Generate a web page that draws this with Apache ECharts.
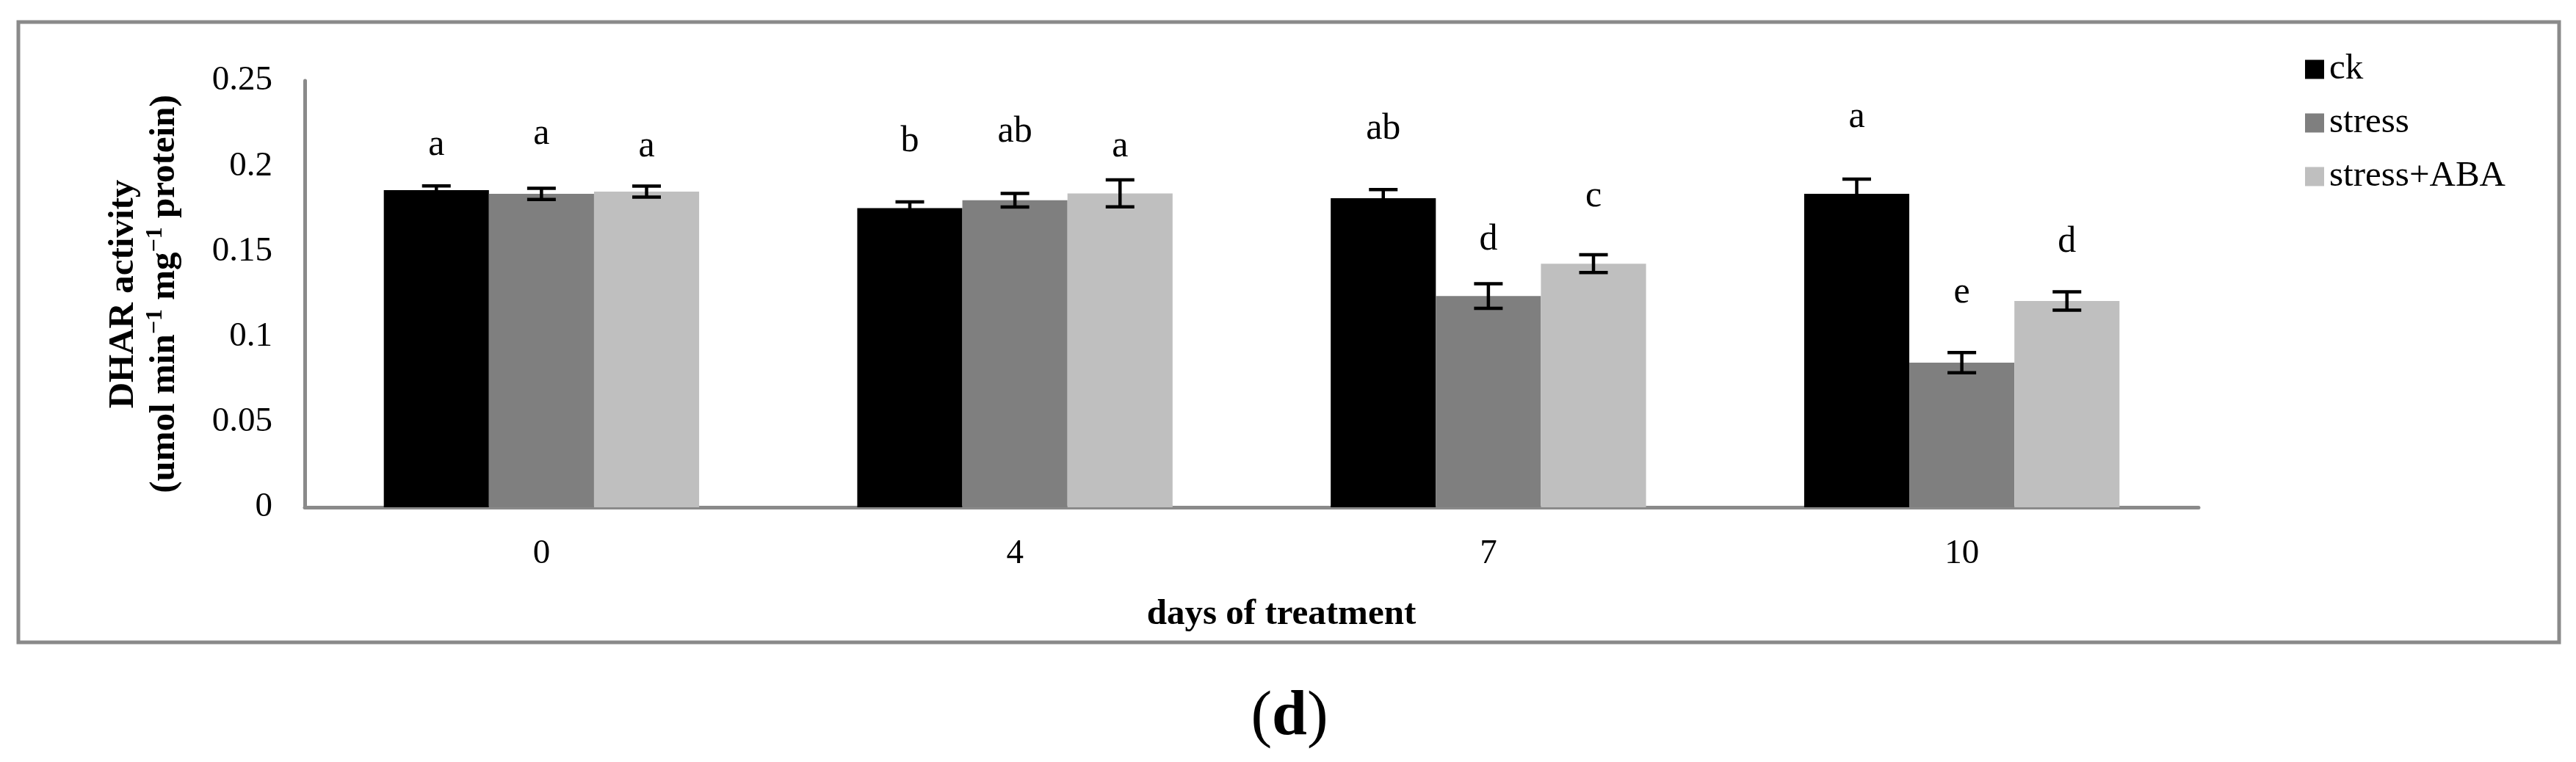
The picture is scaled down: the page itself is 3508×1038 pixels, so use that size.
<!DOCTYPE html>
<html>
<head>
<meta charset="utf-8">
<script src="https://cdn.jsdelivr.net/npm/echarts@6/dist/echarts.min.js"></script>
<style>
html,body{margin:0;padding:0;background:#fff;}
#chart{width:3508px;height:1038px;}
</style>
</head>
<body>
<div id="chart"></div>
<script>
// ---- data ----
const categories = ['0', '4', '7', '10'];
const seriesNames = ['ck', 'stress', 'stress+ABA'];
const ckValues     = [0.1859, 0.1753, 0.1811, 0.1837];
const stressValues = [0.1837, 0.1800, 0.1238, 0.0848];
const abaValues    = [0.1850, 0.1840, 0.1428, 0.1209];
const ckErrors     = [0.0025, 0.0037, 0.0051, 0.0086];
const stressErrors = [0.0033, 0.0040, 0.0072, 0.0059];
const abaErrors    = [0.0032, 0.0079, 0.0052, 0.0054];
const ckLetters     = ['a', 'b', 'ab', 'a'];
const stressLetters = ['a', 'ab', 'd', 'e'];
const abaLetters    = ['a', 'a', 'c', 'd'];
const ckLetterY     = [0.2121, 0.2143, 0.2216, 0.2285];
const stressLetterY = [0.2186, 0.2199, 0.1566, 0.1256];
const abaLetterY    = [0.2113, 0.2113, 0.1820, 0.1553];
const yMin = 0, yMax = 0.25, yStep = 0.05;

// ---- styling ----
const FONT = '"Liberation Serif", "Times New Roman", serif';
const colors = ['#000000', '#7f7f7f', '#bfbfbf'];
const axisGray = '#8a8a8a';
const CAT_GAP = 0.334;

const chart = echarts.init(document.getElementById('chart'), null, {renderer: 'canvas', devicePixelRatio: 1});

function barOffset(api, idx) {
  const catW = api.size([1, 0])[0];
  const bw = catW * (1 - CAT_GAP) / 3;
  return (idx - 1) * bw;
}

function errSeries(idx, values, errors) {
  return {
    type: 'custom',
    name: seriesNames[idx] + ' error',
    z: 5,
    silent: true,
    data: values.map((v, i) => [i, v, errors[i]]),
    renderItem: function (params, api) {
      const cat = api.value(0), v = api.value(1), e = api.value(2);
      const x = api.coord([cat, 0])[0] + barOffset(api, idx);
      const yt = api.coord([cat, v + e])[1];
      const yb = api.coord([cat, v - e])[1];
      const h = 19.5;
      const st = {stroke: '#000', lineWidth: 4.5};
      return {
        type: 'group',
        children: [
          {type: 'line', shape: {x1: x, y1: yt, x2: x, y2: yb}, style: st},
          {type: 'line', shape: {x1: x - h, y1: yt, x2: x + h, y2: yt}, style: st},
          {type: 'line', shape: {x1: x - h, y1: yb, x2: x + h, y2: yb}, style: st}
        ]
      };
    }
  };
}

function letterSeries(idx, letterY, letters) {
  return {
    type: 'custom',
    name: seriesNames[idx] + ' letters',
    z: 6,
    silent: true,
    data: letterY.map((v, i) => [i, v]),
    renderItem: function (params, api) {
      const cat = api.value(0), v = api.value(1);
      const p = api.coord([cat, v]);
      return {
        type: 'text',
        x: p[0] + barOffset(api, idx),
        y: p[1],
        style: {
          text: letters[params.dataIndex],
          fontFamily: FONT,
          fontSize: 50,
          fill: '#000',
          align: 'center',
          verticalAlign: 'middle'
        }
      };
    }
  };
}

const barBase = {
  type: 'bar',
  barGap: '0%',
  barCategoryGap: (CAT_GAP * 100) + '%',
  silent: true
};

const option = {
  backgroundColor: '#ffffff',
  animation: false,
  grid: {left: 415, right: 514, top: 110, bottom: 347, containLabel: false},
  legend: {
    orient: 'vertical',
    left: 3134,
    top: 65,
    itemWidth: 26,
    itemHeight: 26,
    itemGap: 24,
    icon: 'rect',
    data: seriesNames,
    textStyle: {fontFamily: FONT, fontSize: 49, color: '#000', lineHeight: 26, padding: [0, 0, 0, 2]}
  },
  xAxis: {
    type: 'category',
    data: categories,
    axisLine: {show: true, lineStyle: {color: axisGray, width: 5}},
    axisTick: {show: false},
    axisLabel: {fontFamily: FONT, fontSize: 47, color: '#000', margin: 40},
    splitLine: {show: false}
  },
  yAxis: {
    type: 'value',
    min: yMin,
    max: yMax,
    interval: yStep,
    axisLine: {show: true, lineStyle: {color: axisGray, width: 5}},
    axisTick: {show: false},
    splitLine: {show: false},
    axisLabel: {fontFamily: FONT, fontSize: 47, color: '#000', margin: 44},
    name: '{t|DHAR activity}\n{t|(umol min}{s|\u22121}{t| mg}{s|\u22121}{t| protein)}',
    nameLocation: 'middle',
    nameRotate: 90,
    nameGap: 163,
    nameTextStyle: {
      fontFamily: FONT,
      fontWeight: 'bold',
      color: '#000',
      lineHeight: 56,
      rich: {
        t: {fontFamily: FONT, fontWeight: 'bold', fontSize: 49, lineHeight: 56, color: '#000'},
        s: {fontFamily: FONT, fontWeight: 'bold', fontSize: 32, lineHeight: 56, color: '#000', verticalAlign: 'top', padding: [0, 0, 0, 0]}
      }
    }
  },
  graphic: [
    {
      type: 'rect',
      shape: {x: 25, y: 30, width: 3460, height: 845},
      style: {fill: 'none', stroke: axisGray, lineWidth: 5},
      silent: true,
      z: -10
    },
    {
      type: 'text',
      x: 1745,
      y: 837,
      style: {
        text: 'days of treatment',
        fontFamily: FONT,
        fontWeight: 'bold',
        fontSize: 49,
        fill: '#000',
        align: 'center',
        verticalAlign: 'middle'
      },
      silent: true
    },
    {
      type: 'text',
      x: 1756,
      y: 978,
      style: {
        text: '{p|(}{d|d}{p|)}',
        align: 'center',
        verticalAlign: 'middle',
        rich: {
          p: {fontFamily: FONT, fontSize: 86, fill: '#000', lineHeight: 100},
          d: {fontFamily: FONT, fontWeight: 'bold', fontSize: 86, fill: '#000', lineHeight: 100}
        }
      },
      silent: true
    }
  ],
  series: [
    Object.assign({}, barBase, {name: seriesNames[0], data: ckValues, itemStyle: {color: colors[0]}}),
    Object.assign({}, barBase, {name: seriesNames[1], data: stressValues, itemStyle: {color: colors[1]}}),
    Object.assign({}, barBase, {name: seriesNames[2], data: abaValues, itemStyle: {color: colors[2]}}),
    errSeries(0, ckValues, ckErrors),
    errSeries(1, stressValues, stressErrors),
    errSeries(2, abaValues, abaErrors),
    letterSeries(0, ckLetterY, ckLetters),
    letterSeries(1, stressLetterY, stressLetters),
    letterSeries(2, abaLetterY, abaLetters)
  ]
};

chart.setOption(option);
</script>
</body>
</html>
